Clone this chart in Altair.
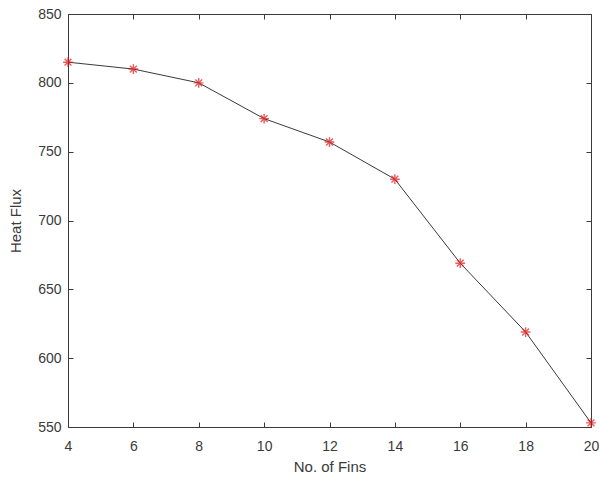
import altair as alt
import pandas as pd

fins = [4, 6, 8, 10, 12, 14, 16, 18, 20]
heat_flux = [815, 810, 800, 774, 757, 730, 669, 619, 553]
y_ticks = [550, 600, 650, 700, 750, 800, 850]

df = pd.DataFrame({"fins": fins, "flux": heat_flux})

FONT = "Liberation Sans"
AX = "#3a3a3a"
ASTERISK = "M-1,0L1,0M0,-1L0,1M-0.7,-0.7L0.7,0.7M-0.7,0.7L0.7,-0.7"

xscale = alt.Scale(domain=[4, 20], nice=False, zero=False)
yscale = alt.Scale(domain=[550, 850], nice=False, zero=False)

tick_axis = dict(grid=False, domain=False, tickColor=AX, tickSize=5, offset=-5,
                 labelFont=FONT, labelFontSize=14, labelColor=AX)
title_style = dict(titleFont=FONT, titleFontSize=15, titleColor=AX, titleFontWeight="normal")

line = alt.Chart(df).mark_line(color="#3a3a3a", strokeWidth=1).encode(
    x=alt.X("fins:Q", scale=xscale,
            axis=alt.Axis(title="No. of Fins", values=fins, labelPadding=12, titlePadding=6,
                          labelFlush=False, **tick_axis, **title_style)),
    y=alt.Y("flux:Q", scale=yscale,
            axis=alt.Axis(title="Heat Flux", values=y_ticks, labelPadding=7,
                          titlePadding=14, labelFlush=False, **tick_axis, **title_style)),
)

pts = alt.Chart(df).mark_point(shape=ASTERISK, color="#e01818", size=95, strokeWidth=1.4,
                               filled=False).encode(
    x=alt.X("fins:Q", scale=xscale,
            axis=alt.Axis(orient="top", title=None, labels=False, values=fins, **tick_axis)),
    y=alt.Y("flux:Q", scale=yscale,
            axis=alt.Axis(orient="right", title=None, labels=False, values=y_ticks, **tick_axis)),
)

chart = alt.layer(line, pts).resolve_axis(x="independent", y="independent").properties(
    width=523, height=413,
    autosize=alt.AutoSizeParams(type="none"),
    padding={"left": 68, "top": 14, "right": 8, "bottom": 54},
    background="white",
).configure_view(stroke=AX, strokeWidth=1)

chart.save("out.html", embed_options={"renderer": "svg", "actions": False})
